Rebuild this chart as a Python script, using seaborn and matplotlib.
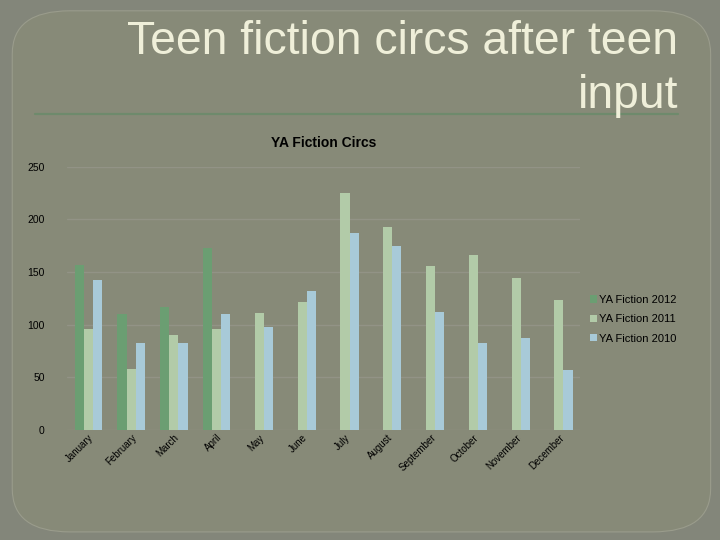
import numpy as np
import pandas as pd
import seaborn as sns
import matplotlib.pyplot as plt
from matplotlib.patches import FancyBboxPatch

months = ['January', 'February', 'March', 'April', 'May', 'June', 'July',
          'August', 'September', 'October', 'November', 'December']
ya_2012 = [157, 110, 117, 173, np.nan, np.nan, np.nan, np.nan, np.nan, np.nan, np.nan, np.nan]
ya_2011 = [96, 58, 90, 96, 111, 122, 225, 193, 156, 166, 144, 123]
ya_2010 = [142, 83, 83, 110, 98, 132, 187, 175, 112, 83, 87, 57]
series = ['YA Fiction 2012', 'YA Fiction 2011', 'YA Fiction 2010']
colors = ['#6b9e72', '#b2cba8', '#a8cad8']

df = pd.DataFrame({'month': months * 3,
                   'value': ya_2012 + ya_2011 + ya_2010,
                   'series': [s for s in series for _ in months]})

sns.set_style('white')
plt.rcParams['font.family'] = ['Liberation Sans', 'DejaVu Sans']
plt.rcParams['text.color'] = 'black'

bg = '#878a78'
fig = plt.figure(figsize=(7.2, 5.4), dpi=100)
fig.patch.set_facecolor('#83867a')

# slide panel drawn on a background axes
bax = fig.add_axes([0, 0, 1, 1], zorder=-1)
bax.set_axis_off()
bax.set_xlim(0, 1)
bax.set_ylim(0, 1)
bax.add_patch(FancyBboxPatch((0.017, 0.015), 0.97, 0.965,
                             boxstyle='round,pad=0,rounding_size=0.08',
                             facecolor=bg, edgecolor='#9a9c8c', lw=0.8))

fig.text(0.942, 0.9, 'Teen fiction circs after teen', ha='right', va='baseline',
         fontsize=33.3, color='#efefd9')
fig.text(0.942, 0.8, 'input', ha='right', va='baseline', fontsize=33.3, color='#efefd9')
fig.add_artist(plt.Line2D([0.048, 0.942], [0.789, 0.789], transform=fig.transFigure,
                          color='#6e8a6c', lw=1.6))

ax = fig.add_axes([0.093, 0.204, 0.713, 0.487])
ax.set_facecolor(bg)
sns.barplot(data=df, x='month', y='value', hue='series', palette=colors,
            width=0.64, gap=0, ax=ax, saturation=1, linewidth=0, edgecolor='none')

ax.set_ylim(0, 250)
ax.set_yticks(range(0, 251, 50))
ax.yaxis.grid(True, color='#929386', lw=1)
ax.set_axisbelow(True)
for s in ax.spines.values():
    s.set_visible(False)
ax.set_xlabel('')
ax.set_ylabel('')
ax.tick_params(axis='y', labelsize=7.5, length=0, pad=16, labelcolor='black')
ax.tick_params(axis='x', labelsize=7, length=0, pad=2, labelcolor='black')
plt.setp(ax.get_xticklabels(), rotation=45, ha='right', rotation_mode='anchor')
ax.set_title('YA Fiction Circs', fontsize=10, fontweight='bold', pad=14, color='black')

leg = ax.legend(loc='center left', bbox_to_anchor=(1.0, 0.42), frameon=False,
                fontsize=8, handlelength=0.6, handleheight=0.6, handletextpad=0.2,
                labelspacing=0.85)
for t in leg.get_texts():
    t.set_color('black')

fig.savefig('out.png', dpi=100, facecolor=fig.get_facecolor())
